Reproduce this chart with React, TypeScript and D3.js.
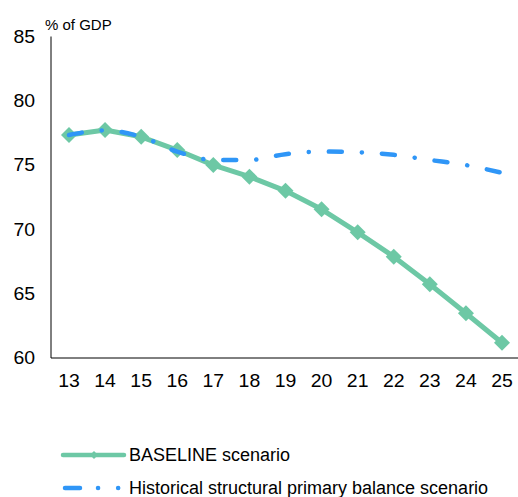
import React from "react";
import * as d3 from "d3";

const years = ["13", "14", "15", "16", "17", "18", "19", "20", "21", "22", "23", "24", "25"];
const baseline = [77.34, 77.73, 77.2, 76.17, 75.0, 74.1, 73.0, 71.56, 69.77, 67.88, 65.73, 63.48, 61.19];
const historical = [77.34, 77.7, 77.2, 76.05, 75.4, 75.4, 75.85, 76.05, 76.0, 75.8, 75.4, 75.0, 74.4];
const yTicks = [60, 65, 70, 75, 80, 85];
const seriesNames = ["BASELINE scenario", "Historical structural primary balance scenario"];

const GREEN = "#6DC8A5";
const BLUE = "#2F96F7";
const FONT = "'Liberation Sans', Arial, sans-serif";
const TICK_SX = 1.08;

export default function App() {
  const x = d3.scalePoint<string>().domain(years).range([69, 502]);
  const y = d3.scaleLinear().domain([60, 85]).range([358, 36.5]);
  const lineStraight = d3
    .line<number>()
    .x((_, i) => x(years[i]) as number)
    .y((d) => y(d));
  const lineSmooth = d3
    .line<number>()
    .x((_, i) => x(years[i]) as number)
    .y((d) => y(d))
    .curve(d3.curveMonotoneX);
  const diamond = (cx: number, cy: number, r: number) =>
    `M${cx},${cy - r}L${cx + r},${cy}L${cx},${cy + r}L${cx - r},${cy}Z`;

  return (
    <svg
      width={518}
      height={497}
      style={{ position: "absolute", left: 0, top: 0, background: "#fff" }}
      fontFamily={FONT}
    >
      {/* axes */}
      <line x1={51} x2={51} y1={36.5} y2={358} stroke="#000" strokeWidth={1} />
      <line x1={51} x2={520} y1={358} y2={358} stroke="#000" strokeWidth={1} />
      {yTicks.map((t) => (
        <text
          key={t}
          transform={`translate(35,${y(t)}) scale(${TICK_SX},1)`}
          textAnchor="end"
          dominantBaseline="central"
          fontSize={18}
          fill="#000"
        >
          {t}
        </text>
      ))}
      {years.map((yr) => (
        <text
          key={yr}
          transform={`translate(${x(yr)},381) scale(${TICK_SX},1)`}
          textAnchor="middle"
          dominantBaseline="central"
          fontSize={18}
          fill="#000"
        >
          {yr}
        </text>
      ))}
      <text x={45} y={24} dominantBaseline="central" fontSize={15} fill="#000">
        % of GDP
      </text>

      {/* baseline series */}
      <path d={lineStraight(baseline) || ""} fill="none" stroke={GREEN} strokeWidth={5} strokeLinejoin="round" />
      {baseline.map((v, i) => (
        <path key={i} d={diamond(x(years[i]) as number, y(v), 8)} fill={GREEN} />
      ))}

      {/* historical series */}
      <path
        d={lineSmooth(historical) || ""}
        fill="none"
        stroke={BLUE}
        strokeWidth={4.5}
        strokeLinecap="round"
        strokeDasharray="13 20 0.1 20"
      />

      {/* legend */}
      <line x1={63} x2={124} y1={455} y2={455} stroke={GREEN} strokeWidth={4.5} strokeLinecap="round" />
      <path d={diamond(94, 455, 4)} fill={GREEN} />
      <text x={129} y={455} dominantBaseline="central" fontSize={18} fill="#000">
        {seriesNames[0]}
      </text>
      <line
        x1={65}
        x2={124}
        y1={488}
        y2={488}
        stroke={BLUE}
        strokeWidth={4.5}
        strokeLinecap="round"
        strokeDasharray="15 18 0.1 20 0.1 40"
      />
      <text x={129} y={488} dominantBaseline="central" fontSize={18} fill="#000">
        {seriesNames[1]}
      </text>
    </svg>
  );
}
